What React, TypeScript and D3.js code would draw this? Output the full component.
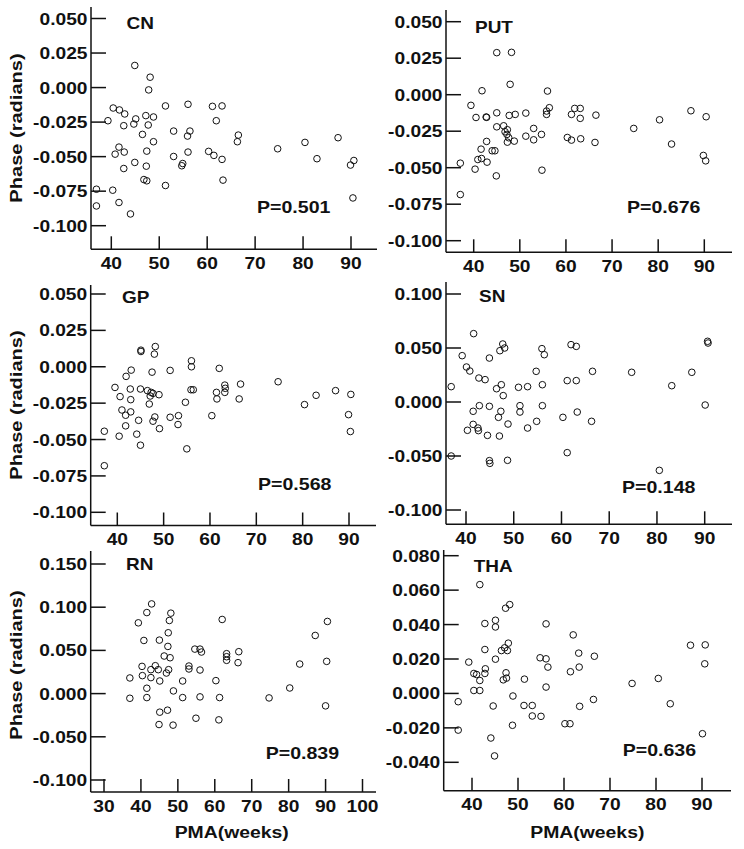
import React from "react";
import * as d3 from "d3";

// ---------- data (PMA weeks, phase radians) ----------
const cnPoints: [number, number][] = [
  [44.9, 0.016], [48.1, 0.0075], [47.8, -0.0017], [40.4, -0.0148], [41.7, -0.0162],
  [42.8, -0.0191], [39.3, -0.024], [45.1, -0.0227], [44.7, -0.0264], [42.6, -0.0276],
  [47.2, -0.0203], [47.7, -0.0271], [48.8, -0.0213], [51.3, -0.0133], [56.0, -0.0121],
  [53.0, -0.0315], [56.4, -0.0315], [55.9, -0.0351], [46.5, -0.0339], [48.8, -0.0392],
  [41.6, -0.0431], [40.8, -0.0482], [42.7, -0.0467], [47.4, -0.046], [44.9, -0.0542],
  [42.6, -0.0586], [47.3, -0.0569], [53.0, -0.0499], [54.9, -0.055], [54.7, -0.0566],
  [56.0, -0.0467], [46.8, -0.0666], [47.4, -0.0675], [51.3, -0.0709], [63.1, -0.0133],
  [61.1, -0.0136], [61.9, -0.024], [60.3, -0.0462], [61.4, -0.0491], [63.1, -0.052],
  [63.3, -0.067], [66.5, -0.0344], [66.3, -0.0392], [74.7, -0.0443], [80.4, -0.0397],
  [82.9, -0.0515], [87.3, -0.0363], [89.9, -0.0561], [90.6, -0.0528], [90.4, -0.0799],
  [36.9, -0.0736], [40.3, -0.0743], [36.9, -0.0857], [41.6, -0.0832], [44.0, -0.0915],
];

const putPoints: [number, number][] = [
  [45.0, 0.0288], [48.2, 0.029], [47.9, 0.0071], [41.8, 0.0027], [56.0, 0.0025],
  [39.4, -0.0073], [40.5, -0.0156], [42.7, -0.0153], [42.8, -0.0155], [45.0, -0.0124],
  [47.7, -0.0142], [49.0, -0.0135], [51.3, -0.0126], [55.8, -0.0112], [56.4, -0.0089],
  [55.8, -0.0135], [61.9, -0.0094], [63.1, -0.0094], [61.2, -0.0135], [63.1, -0.0162],
  [66.5, -0.014], [45.0, -0.022], [46.5, -0.0213], [46.8, -0.0254], [47.3, -0.024],
  [47.2, -0.0272], [47.6, -0.0295], [47.3, -0.0325], [48.8, -0.0318], [42.8, -0.032],
  [51.3, -0.0284], [53.0, -0.0231], [53.0, -0.0309], [54.7, -0.0272], [60.3, -0.0293],
  [61.2, -0.0311], [63.2, -0.0302], [66.3, -0.0327], [41.6, -0.0373], [44.0, -0.0384],
  [44.6, -0.0384], [40.9, -0.0444], [41.7, -0.0437], [42.9, -0.0462], [40.3, -0.051],
  [44.9, -0.0556], [54.8, -0.0517], [37.1, -0.0469], [37.1, -0.0684], [74.7, -0.0231],
  [80.3, -0.0172], [82.9, -0.0338], [87.1, -0.011], [90.4, -0.0151], [89.8, -0.0416],
  [90.3, -0.0453],
];

const gpPoints: [number, number][] = [
  [45.1, 0.0114], [45.1, 0.0105], [48.2, 0.0139], [48.0, 0.0087], [43.0, -0.0023],
  [41.9, -0.0066], [47.5, -0.0037], [51.4, -0.0025], [56.0, 0.0041], [56.0, 0.0],
  [62.0, -0.0011], [39.5, -0.0142], [42.8, -0.0153], [45.0, -0.0153], [46.5, -0.0164],
  [47.3, -0.0176], [47.1, -0.0201], [47.7, -0.0183], [49.0, -0.0192], [40.6, -0.0205],
  [42.9, -0.0226], [46.9, -0.0256], [54.7, -0.0244], [55.9, -0.0158], [56.4, -0.0158],
  [61.4, -0.0176], [61.5, -0.0221], [63.2, -0.0126], [63.3, -0.0148], [63.2, -0.0176],
  [66.6, -0.0119], [66.3, -0.0221], [74.7, -0.0103], [87.1, -0.0164], [82.9, -0.0196],
  [80.4, -0.026], [90.4, -0.019], [89.9, -0.0329], [90.3, -0.0445], [41.0, -0.0297],
  [42.9, -0.031], [41.8, -0.0333], [41.8, -0.0406], [44.6, -0.0368], [48.1, -0.0345],
  [47.7, -0.0374], [49.1, -0.0425], [51.4, -0.0347], [53.2, -0.0336], [53.1, -0.0397],
  [60.4, -0.0336], [40.4, -0.0477], [44.2, -0.0463], [45.0, -0.0539], [55.0, -0.0564],
  [37.2, -0.0443], [37.2, -0.068],
];

const snPoints: [number, number][] = [
  [41.6, 0.0633], [39.2, 0.0429], [40.1, 0.0324], [40.8, 0.0287], [42.7, 0.0222],
  [44.0, 0.0207], [44.9, 0.0407], [47.1, 0.0475], [47.7, 0.0537], [48.1, 0.05],
  [47.4, 0.016], [46.4, 0.0123], [47.8, 0.0059], [36.9, 0.0142], [41.5, -0.0086],
  [42.8, -0.0034], [44.9, -0.004], [47.3, -0.0086], [46.8, -0.0142], [48.8, -0.0204],
  [41.5, -0.0207], [42.5, -0.0241], [42.6, -0.0265], [40.3, -0.0262], [44.5, -0.0309],
  [47.0, -0.0315], [44.9, -0.0543], [45.0, -0.0568], [48.7, -0.054], [36.9, -0.05],
  [51.0, 0.0136], [51.3, -0.0034], [51.3, -0.0093], [52.9, 0.0142], [52.9, -0.0241],
  [54.7, 0.0284], [54.8, -0.0179], [55.9, 0.0494], [56.4, 0.0438], [56.0, 0.016],
  [56.0, -0.0034], [60.3, -0.0142], [61.2, 0.0198], [61.2, -0.0469], [62.0, 0.0531],
  [63.1, 0.0515], [63.1, 0.0198], [63.3, -0.0093], [66.5, 0.0284], [66.3, -0.0179],
  [74.7, 0.0275], [83.1, 0.0151], [80.5, -0.0633], [87.3, 0.0275], [90.6, 0.0562],
  [90.7, 0.0546], [90.1, -0.0028],
];

const rnPoints: [number, number][] = [
  [42.9, 0.1038], [41.6, 0.0938], [39.3, 0.0819], [48.1, 0.0931], [47.7, 0.0846],
  [47.4, 0.0704], [47.3, 0.0546], [40.8, 0.0615], [45.0, 0.0619], [46.3, 0.0435],
  [47.9, 0.0415], [40.3, 0.0315], [43.9, 0.0323], [42.7, 0.0277], [44.7, 0.0277],
  [47.5, 0.0277], [46.9, 0.0238], [42.7, 0.0185], [40.4, 0.0208], [37.0, 0.0181],
  [45.1, 0.0146], [41.6, 0.0062], [48.8, 0.0031], [37.0, -0.0054], [41.6, -0.0046],
  [45.1, -0.0215], [47.2, -0.0192], [44.9, -0.0358], [48.7, -0.0365], [54.6, 0.0515],
  [56.0, 0.0515], [56.4, 0.0481], [53.0, 0.0319], [53.0, 0.0285], [51.3, 0.0146],
  [56.0, 0.0273], [51.3, -0.0046], [56.0, -0.0038], [54.9, -0.0285], [60.3, 0.015],
  [61.3, -0.0046], [61.1, -0.0304], [62.0, 0.0858], [63.2, 0.0462], [63.2, 0.0427],
  [63.2, 0.0385], [66.5, 0.0485], [66.3, 0.0358], [74.7, -0.005], [80.3, 0.0065],
  [83.0, 0.0342], [87.2, 0.0673], [90.5, 0.0835], [90.3, 0.0373], [90.0, -0.0142],
];

const thaPoints: [number, number][] = [
  [41.7, 0.0632], [47.3, 0.0495], [48.2, 0.0516], [42.8, 0.0406], [45.1, 0.0425],
  [45.1, 0.0386], [56.1, 0.0404], [62.0, 0.034], [47.9, 0.0292], [47.1, 0.0265],
  [46.4, 0.0249], [47.7, 0.0249], [42.8, 0.0255], [39.3, 0.0182], [45.1, 0.0199],
  [42.9, 0.0143], [42.8, 0.0116], [40.4, 0.0116], [41.0, 0.011], [41.7, 0.0075],
  [47.4, 0.012], [47.5, 0.0089], [46.8, 0.0079], [40.4, 0.0017], [41.7, 0.0017],
  [37.0, -0.0048], [37.0, -0.0213], [44.6, -0.0073], [48.9, -0.0015], [48.8, -0.0185],
  [44.1, -0.0259], [44.9, -0.0363], [51.4, 0.0083], [51.3, -0.007], [53.1, -0.007],
  [53.1, -0.0131], [55.0, -0.0133], [54.8, 0.0207], [56.1, 0.0201], [56.5, 0.0153],
  [56.1, 0.0037], [60.2, -0.0176], [61.3, -0.0176], [61.4, 0.0126], [63.2, 0.0234],
  [63.3, 0.0153], [63.4, -0.0075], [66.6, 0.0216], [66.4, -0.0035], [74.8, 0.0058],
  [80.5, 0.0087], [83.1, -0.006], [87.5, 0.028], [90.7, 0.0282], [90.6, 0.0172],
  [90.1, -0.0234],
];

const regionNames = ["CN", "PUT", "GP", "SN", "RN", "THA"];
const pValues = ["P=0.501", "P=0.676", "P=0.568", "P=0.148", "P=0.839", "P=0.636"];

const xTicksStd = [40, 50, 60, 70, 80, 90];
const xTicksRN = [30, 40, 50, 60, 70, 80, 90, 100];
const yTicksStd = [0.05, 0.025, 0, -0.025, -0.05, -0.075, -0.1];
const yTicksSN = [0.1, 0.05, 0, -0.05, -0.1];
const yTicksRN = [0.15, 0.1, 0.05, 0, -0.05, -0.1];
const yTicksTHA = [0.08, 0.06, 0.04, 0.02, 0, -0.02, -0.04];

// ---------- layout (pixels) ----------
type Layout = {
  name: string;
  p: string;
  points: [number, number][];
  xTicks: number[];
  yTicks: number[];
  xRef: [number, number];
  xPx: [number, number];
  yRef: [number, number];
  yPx: [number, number];
  left: number;
  right: number;
  top: number;
  bottom: number;
  title: [number, number];
  pPos: [number, number];
  yLabelY?: number;
  xLabelX?: number;
};

const panels: Layout[] = [
  { name: regionNames[0], p: pValues[0], points: cnPoints, xTicks: xTicksStd, yTicks: yTicksStd,
    xRef: [40, 90], xPx: [111.3, 351], yRef: [0.05, -0.1], yPx: [18.5, 225.7],
    left: 91, right: 377, top: 7, bottom: 249.3, title: [126.5, 28.5], pPos: [257, 213], yLabelY: 128 },
  { name: regionNames[1], p: pValues[1], points: putPoints, xTicks: xTicksStd, yTicks: yTicksStd,
    xRef: [40, 90], xPx: [473.7, 704.3], yRef: [0.05, -0.1], yPx: [21.7, 240.7],
    left: 446, right: 732, top: 10, bottom: 252.3, title: [475, 33], pPos: [627, 213] },
  { name: regionNames[2], p: pValues[2], points: gpPoints, xTicks: xTicksStd, yTicks: yTicksStd,
    xRef: [40, 90], xPx: [117.3, 349], yRef: [0.05, -0.1], yPx: [294, 512.3],
    left: 90.7, right: 376, top: 285, bottom: 525.5, title: [122, 303], pPos: [258, 490], yLabelY: 405 },
  { name: regionNames[3], p: pValues[3], points: snPoints, xTicks: xTicksStd, yTicks: yTicksSN,
    xRef: [40, 90], xPx: [466, 704.7], yRef: [0.1, -0.1], yPx: [294, 510],
    left: 446, right: 732, top: 282, bottom: 524.3, title: [479, 302], pPos: [622, 493] },
  { name: regionNames[4], p: pValues[4], points: rnPoints, xTicks: xTicksRN, yTicks: yTicksRN,
    xRef: [30, 100], xPx: [104, 362.5], yRef: [0.15, -0.1], yPx: [564, 780],
    left: 90.7, right: 376, top: 551, bottom: 792, title: [126, 570], pPos: [265.7, 759.3],
    yLabelY: 665, xLabelX: 231.7 },
  { name: regionNames[5], p: pValues[5], points: thaPoints, xTicks: xTicksStd, yTicks: yTicksTHA,
    xRef: [40, 90], xPx: [472, 702], yRef: [0.08, -0.04], yPx: [555.7, 762.3],
    left: 443.7, right: 731, top: 550, bottom: 790.7, title: [473.7, 571.7], pPos: [622.7, 755.7],
    xLabelX: 587.3 },
];

const FONT = "'Liberation Sans', Arial, Helvetica, sans-serif";

function fmtY(v: number, digits: number) {
  return v.toFixed(digits);
}

function Panel({ L }: { L: Layout }) {
  const x = d3.scaleLinear().domain(L.xRef).range(L.xPx);
  const y = d3.scaleLinear().domain(L.yRef).range(L.yPx);
  const sw = 1.5;
  return (
    <g>
      {/* axes */}
      <line x1={L.left} x2={L.left} y1={L.top} y2={L.bottom} stroke="#111" strokeWidth={sw} />
      <line x1={L.left} x2={L.right} y1={L.bottom} y2={L.bottom} stroke="#111" strokeWidth={sw} />
      {L.yTicks.map((t) => (
        <g key={"y" + t}>
          <line x1={L.left} x2={L.left + 15} y1={y(t)} y2={y(t)} stroke="#111" strokeWidth={sw} />
          <text
            transform={`translate(${L.left - 3.5},${y(t) + 6}) scale(1.13,1)`}
            textAnchor="end"
            fontFamily={FONT}
            fontWeight="bold"
            fontSize={17}
            fill="#111"
          >
            {fmtY(t, 3)}
          </text>
        </g>
      ))}
      {L.xTicks.map((t) => (
        <g key={"x" + t}>
          <line x1={x(t)} x2={x(t)} y1={L.bottom} y2={L.bottom - 13} stroke="#111" strokeWidth={sw} />
          <text
            transform={`translate(${x(t)},${L.bottom + 19.5}) scale(1.13,1)`}
            textAnchor="middle"
            fontFamily={FONT}
            fontWeight="bold"
            fontSize={17}
            fill="#111"
          >
            {t}
          </text>
        </g>
      ))}
      {/* points */}
      {L.points.map((d, i) => (
        <circle key={i} cx={x(d[0])} cy={y(d[1])} r={3.3} fill="none" stroke="#111" strokeWidth={1} />
      ))}
      {/* title */}
      <text
        transform={`translate(${L.title[0]},${L.title[1]}) scale(1.15,1)`}
        fontFamily={FONT}
        fontWeight="bold"
        fontSize={16.5}
        fill="#111"
      >
        {L.name}
      </text>
      {/* p value */}
      <text
        transform={`translate(${L.pPos[0]},${L.pPos[1]}) scale(1.2,1)`}
        fontFamily={FONT}
        fontWeight="bold"
        fontSize={16.3}
        fill="#111"
      >
        {L.p}
      </text>
      {L.yLabelY !== undefined && (
        <text
          transform={`translate(21.5,${L.yLabelY}) rotate(-90) scale(1.18,1)`}
          textAnchor="middle"
          fontFamily={FONT}
          fontWeight="bold"
          fontSize={17}
          fill="#111"
        >
          Phase (radians)
        </text>
      )}
      {L.xLabelX !== undefined && (
        <text
          transform={`translate(${L.xLabelX},837.5) scale(1.14,1)`}
          textAnchor="middle"
          fontFamily={FONT}
          fontWeight="bold"
          fontSize={17}
          fill="#111"
        >
          PMA(weeks)
        </text>
      )}
    </g>
  );
}

export default function App() {
  return (
    <svg
      width={744}
      height={849}
      viewBox="0 0 744 849"
      style={{ position: "absolute", left: 0, top: 0, background: "#fff" }}
    >
      <rect x={0} y={0} width={744} height={849} fill="#fff" />
      {panels.map((L) => (
        <Panel key={L.name} L={L} />
      ))}
    </svg>
  );
}
